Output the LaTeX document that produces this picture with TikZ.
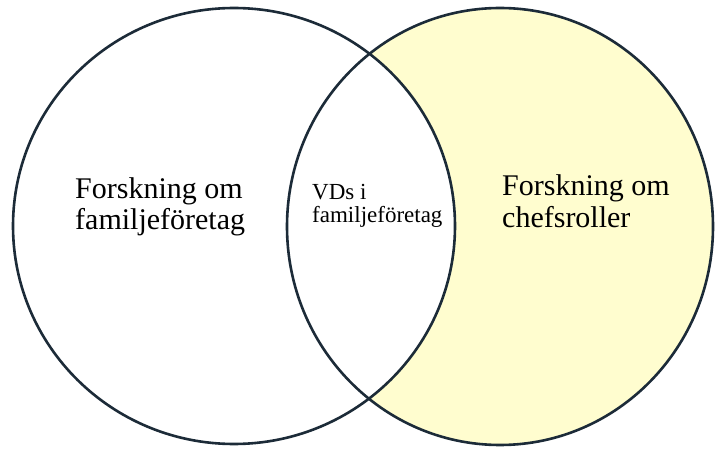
\documentclass[tikz,border=0pt]{standalone}
\usepackage{fontspec}
\setmainfont{Liberation Serif}
\definecolor{rim}{HTML}{1C2B38}
\definecolor{paleyellow}{HTML}{FFFDCF}
\tikzset{
  ring/.style={draw=rim, line width=2.6pt},
  bigtext/.style={anchor=base west, inner sep=0pt, align=left,
    font=\fontsize{30}{32}\selectfont},
  smalltext/.style={anchor=base west, inner sep=0pt, align=left,
    font=\fontsize{23}{23}\selectfont},
}
\begin{document}
\begin{tikzpicture}[x=1pt, y=-1pt]
  \useasboundingbox[fill=white] (0,0) rectangle (718,449);
  % right set filled, left set painted white over it
  \fill[paleyellow] (500,226.5) ellipse [x radius=213, y radius=218.5];
  \fill[white] (234,226) ellipse [x radius=221, y radius=218];
  % outlines
  \draw[ring] (500,226.5) ellipse [x radius=213, y radius=218.5];
  \draw[ring] (234,226) ellipse [x radius=221, y radius=218];
  % labels (anchored on the baseline of the last line)
  \node[bigtext] (famf) at (75,230) {Forskning om\\familjeföretag};
  \node[smalltext] (vds) at (312,223) {VDs i\\familjeföretag};
  \node[bigtext] (chef) at (502,228) {Forskning om\\chefsroller};
\end{tikzpicture}
\end{document}
